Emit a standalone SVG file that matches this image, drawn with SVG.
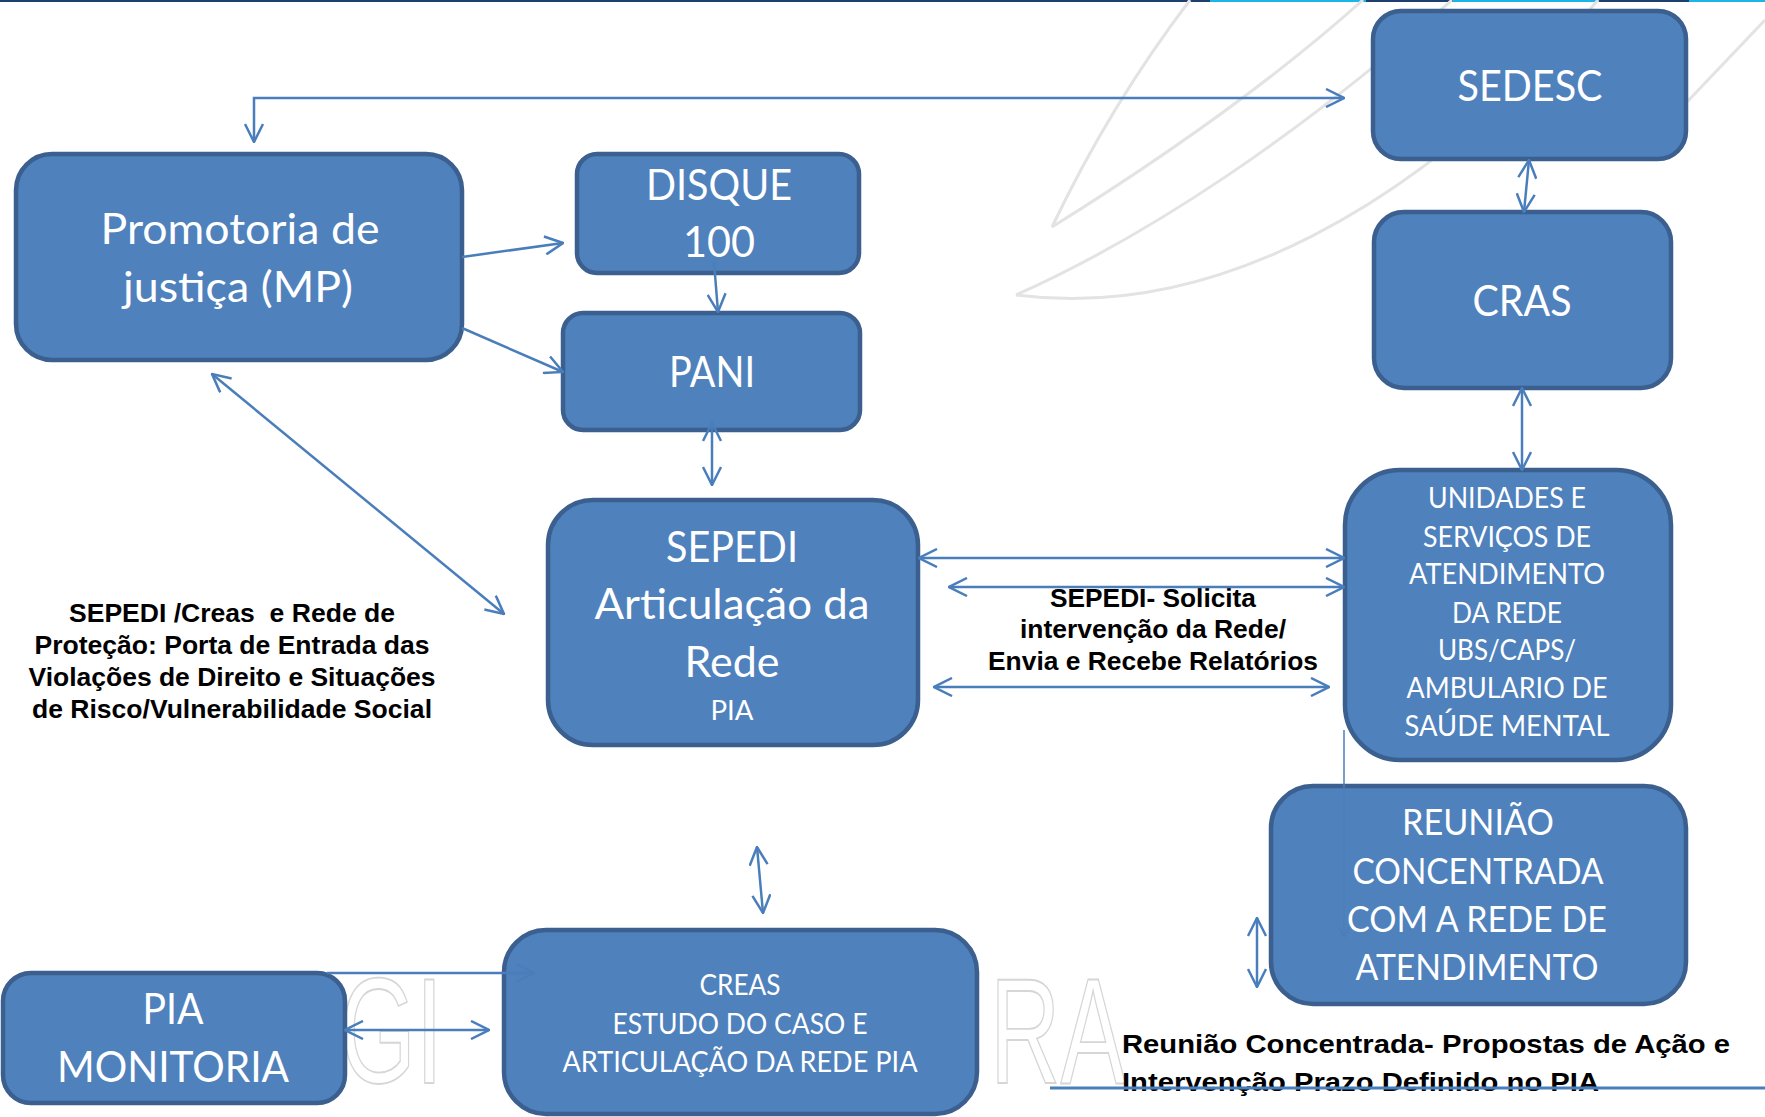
<svg xmlns="http://www.w3.org/2000/svg" width="1765" height="1117" viewBox="0 0 1765 1117">
<defs>
<style>
.box{fill:#4f81bd;stroke:#3b5f8e;stroke-width:4.5}
.lbl{fill:#ffffff;font-family:Lato,"Open Sans","DejaVu Sans",sans-serif;text-anchor:middle}
.note{fill:#000000;font-family:"Liberation Sans",Arial,sans-serif;font-weight:bold;font-size:26px}
.c{fill:none;stroke:#4a7ebb;stroke-width:2.5}
.sw{fill:none;stroke:#e3e3e3;stroke-width:3}
.wm{fill:none;stroke:#d6d6d6;stroke-width:1.5;font-family:"Liberation Sans",Arial,sans-serif;font-size:150px}
</style>
<marker id="ah" viewBox="0 0 20 20" refX="19" refY="10" markerWidth="20" markerHeight="20" markerUnits="userSpaceOnUse" orient="auto-start-reverse">
<path d="M1,1 L19,10 L1,19" fill="none" stroke="#4a7ebb" stroke-width="2.5"/>
</marker>
<marker id="ahs" viewBox="0 0 12 12" refX="11" refY="6" markerWidth="12" markerHeight="12" markerUnits="userSpaceOnUse" orient="auto-start-reverse">
<path d="M1,1 L11,6 L1,11" fill="none" stroke="#4a7ebb" stroke-width="1.5"/>
</marker>
</defs>
<rect x="0" y="0" width="1765" height="1117" fill="#ffffff"/>

<g id="background">
<rect x="0" y="0" width="1210" height="2" fill="#1f3f6e"/>
<rect x="1210" y="0" width="555" height="2" fill="#1cb5e8"/>
<rect x="1366" y="0" width="87" height="2" fill="#1f3f6e"/>
<rect x="1599" y="0" width="90" height="2" fill="#1f3f6e"/>
<path class="sw" d="M1190,0 Q1110,105 1052,227"/>
<path class="sw" d="M1052,227 Q1240,110 1363,0"/>
<path class="sw" d="M1016,295 C1150,235 1300,135 1452,0"/>
<path class="sw" d="M1016,295 C1210,320 1420,210 1598,0"/>
<path class="sw" d="M1765,20 L1686,103 L1640,160"/>
<text class="wm" transform="translate(340,1083) scale(0.65,1)" vector-effect="non-scaling-stroke">GI</text>
<text class="wm" transform="translate(990,1083) scale(0.65,1)" vector-effect="non-scaling-stroke">RA</text>
</g>

<g id="node-promotoria">
<rect class="box" x="16" y="154" width="446" height="206" rx="36"/>
<text class="lbl" font-size="42" x="240" y="244" textLength="279" lengthAdjust="spacingAndGlyphs">Promotoria de</text>
<text class="lbl" font-size="42" x="238" y="302" textLength="230" lengthAdjust="spacingAndGlyphs">justiça (MP)</text>
</g>

<g id="node-disque">
<rect class="box" x="577" y="154" width="282" height="119" rx="20"/>
<text class="lbl" font-size="42" x="719" y="200" textLength="146" lengthAdjust="spacingAndGlyphs">DISQUE</text>
<text class="lbl" font-size="42" x="719" y="257" textLength="72" lengthAdjust="spacingAndGlyphs">100</text>
</g>

<g id="node-pani">
<rect class="box" x="563" y="313" width="297" height="117" rx="20"/>
<text class="lbl" font-size="42" x="712" y="387" textLength="86" lengthAdjust="spacingAndGlyphs">PANI</text>
</g>

<g id="node-sepedi">
<rect class="box" x="548" y="500" width="370" height="245" rx="45"/>
<text class="lbl" font-size="42" x="732" y="562" textLength="132" lengthAdjust="spacingAndGlyphs">SEPEDI</text>
<text class="lbl" font-size="42" x="732" y="619" textLength="275" lengthAdjust="spacingAndGlyphs">Articulação da</text>
<text class="lbl" font-size="42" x="732" y="677" textLength="95" lengthAdjust="spacingAndGlyphs">Rede</text>
<text class="lbl" font-size="26" x="732" y="720" textLength="43" lengthAdjust="spacingAndGlyphs">PIA</text>
</g>

<g id="node-sedesc">
<rect class="box" x="1373" y="11" width="313" height="148" rx="28"/>
<text class="lbl" font-size="42" x="1530" y="101" textLength="145" lengthAdjust="spacingAndGlyphs">SEDESC</text>
</g>

<g id="node-cras">
<rect class="box" x="1374" y="212" width="297" height="176" rx="30"/>
<text class="lbl" font-size="42" x="1522" y="316" textLength="99" lengthAdjust="spacingAndGlyphs">CRAS</text>
</g>

<g id="node-unidades">
<rect class="box" x="1345" y="470" width="326" height="290" rx="55"/>
<text class="lbl" font-size="28" x="1507" y="508" textLength="158" lengthAdjust="spacingAndGlyphs">UNIDADES E</text>
<text class="lbl" font-size="28" x="1507" y="547" textLength="168" lengthAdjust="spacingAndGlyphs">SERVIÇOS DE</text>
<text class="lbl" font-size="28" x="1507" y="584" textLength="196" lengthAdjust="spacingAndGlyphs">ATENDIMENTO</text>
<text class="lbl" font-size="28" x="1507" y="623" textLength="110" lengthAdjust="spacingAndGlyphs">DA REDE</text>
<text class="lbl" font-size="28" x="1507" y="660" textLength="138" lengthAdjust="spacingAndGlyphs">UBS/CAPS/</text>
<text class="lbl" font-size="28" x="1507" y="698" textLength="201" lengthAdjust="spacingAndGlyphs">AMBULARIO DE</text>
<text class="lbl" font-size="28" x="1507" y="736" textLength="205" lengthAdjust="spacingAndGlyphs">SAÚDE MENTAL</text>
</g>

<g id="node-reuniao">
<rect class="box" x="1271" y="786" width="415" height="218" rx="42"/>
<text class="lbl" font-size="36" x="1478" y="835" textLength="152" lengthAdjust="spacingAndGlyphs">REUNIÃO</text>
<text class="lbl" font-size="36" x="1478" y="884" textLength="251" lengthAdjust="spacingAndGlyphs">CONCENTRADA</text>
<text class="lbl" font-size="36" x="1477" y="932" textLength="260" lengthAdjust="spacingAndGlyphs">COM A REDE DE</text>
<text class="lbl" font-size="36" x="1477" y="980" textLength="243" lengthAdjust="spacingAndGlyphs">ATENDIMENTO</text>
</g>

<g id="node-creas">
<rect class="box" x="504" y="930" width="473" height="184" rx="42"/>
<text class="lbl" font-size="28" x="740" y="995" textLength="81" lengthAdjust="spacingAndGlyphs">CREAS</text>
<text class="lbl" font-size="28" x="740" y="1034" textLength="255" lengthAdjust="spacingAndGlyphs">ESTUDO DO CASO E</text>
<text class="lbl" font-size="28" x="740" y="1072" textLength="355" lengthAdjust="spacingAndGlyphs">ARTICULAÇÃO DA REDE PIA</text>
</g>

<g id="node-pia">
<rect class="box" x="3" y="973" width="342" height="130" rx="28"/>
<text class="lbl" font-size="42" x="173" y="1024" textLength="61" lengthAdjust="spacingAndGlyphs">PIA</text>
<text class="lbl" font-size="42" x="173" y="1082" textLength="232" lengthAdjust="spacingAndGlyphs">MONITORIA</text>
</g>

<g id="note-left">
<text class="note" x="232" y="622" text-anchor="middle" textLength="326" lengthAdjust="spacingAndGlyphs" xml:space="preserve">SEPEDI /Creas  e Rede de</text>
<text class="note" x="232" y="654" text-anchor="middle" textLength="395" lengthAdjust="spacingAndGlyphs">Proteção: Porta de Entrada das</text>
<text class="note" x="232" y="686" text-anchor="middle" textLength="407" lengthAdjust="spacingAndGlyphs">Violações de Direito e Situações</text>
<text class="note" x="232" y="718" text-anchor="middle" textLength="400" lengthAdjust="spacingAndGlyphs">de Risco/Vulnerabilidade Social</text>
</g>

<g id="note-middle">
<text class="note" x="1153" y="607" text-anchor="middle" textLength="206" lengthAdjust="spacingAndGlyphs">SEPEDI- Solicita</text>
<text class="note" x="1153" y="638" text-anchor="middle" textLength="266" lengthAdjust="spacingAndGlyphs">intervenção da Rede/</text>
<text class="note" x="1153" y="670" text-anchor="middle" textLength="330" lengthAdjust="spacingAndGlyphs">Envia e Recebe Relatórios</text>
</g>

<g id="note-bottom">
<text class="note" x="1122" y="1053" textLength="608" lengthAdjust="spacingAndGlyphs">Reunião Concentrada- Propostas de Ação e</text>
<text class="note" x="1122" y="1091" textLength="477" lengthAdjust="spacingAndGlyphs">Intervenção Prazo Definido no PIA</text>
<rect x="1050" y="1086.5" width="715" height="3" fill="#4a7ebb"/>
</g>

<g id="connectors">
<path class="c" d="M1344,98 H254 V142" marker-start="url(#ah)" marker-end="url(#ah)"/>
<path class="c" d="M462,257 L563,243" marker-end="url(#ah)"/>
<path class="c" d="M462,328 L563,372" marker-end="url(#ah)"/>
<path class="c" d="M714,262 L718,312" marker-end="url(#ah)"/>
<path class="c" d="M212,374 L504,614" marker-start="url(#ah)" marker-end="url(#ah)"/>
<path class="c" d="M712,423 L712,485" marker-start="url(#ah)" marker-end="url(#ah)"/>
<path class="c" d="M1529,160 L1524,212" marker-start="url(#ah)" marker-end="url(#ah)"/>
<path class="c" d="M1522,388 L1522,470" marker-start="url(#ah)" marker-end="url(#ah)"/>
<path class="c" d="M919,558 L1344,558" marker-start="url(#ah)" marker-end="url(#ah)"/>
<path class="c" d="M949,587 L1344,587" marker-start="url(#ah)" marker-end="url(#ah)"/>
<path class="c" d="M934,687 L1329,687" marker-start="url(#ah)" marker-end="url(#ah)"/>
<path class="c" d="M1344,730 L1344,937" style="stroke-width:1.5" marker-end="url(#ahs)"/>
<path class="c" d="M1257,918 L1257,987" marker-start="url(#ah)" marker-end="url(#ah)"/>
<path class="c" d="M757,847 L763,913" marker-start="url(#ah)" marker-end="url(#ah)"/>
<path class="c" d="M345,1030 L489,1030" marker-start="url(#ah)" marker-end="url(#ah)"/>
<path class="c" d="M327,973 L534,973" marker-end="url(#ah)"/>
</g>
</svg>
